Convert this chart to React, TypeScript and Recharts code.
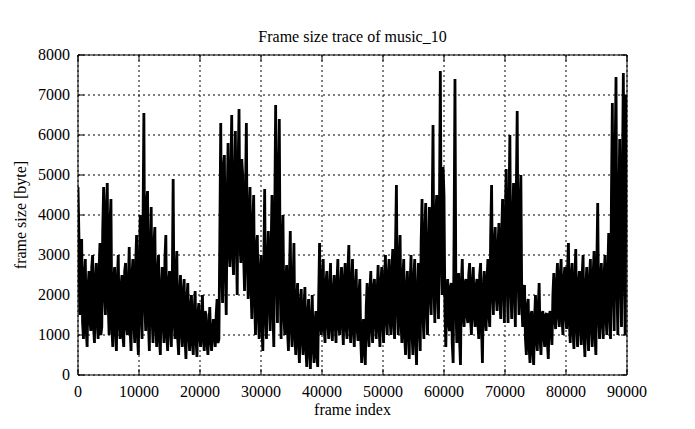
import React from "react";
import { LineChart, Line, XAxis, YAxis, CartesianGrid } from "recharts";

// frame size samples, one every FRAME_STEP frames
const FRAME_STEP = 150;
const frameSizes = [
  4700, 3500, 1500, 2800, 3400, 1300, 900, 2500, 2900, 1100, 700, 2200, 2600, 1400, 1100, 2700, 3000, 1200, 800, 2400,
  2800, 1300, 900, 2600, 3300, 1000, 1200, 3600, 4700, 2000, 1500, 4200, 4800, 1800, 1000, 3800, 4400, 1200, 700, 2300,
  2700, 1100, 600, 2400, 3000, 1300, 900, 2200, 2500, 1000, 700, 2600, 2800, 1200, 1000, 2300, 3200, 1100, 600, 2500,
  2900, 1300, 800, 2700, 3500, 1000, 500, 2800, 4000, 1500, 900, 3600, 6550, 1800, 1100, 4300, 4600, 1300, 600, 3200,
  4200, 1400, 800, 3300, 3700, 1200, 700, 2600, 3000, 900, 500, 2200, 2700, 1300, 800, 2900, 3500, 1000, 600, 2300,
  2600, 1100, 700, 2200, 4900, 1400, 900, 2500, 3100, 900, 500, 2000, 2500, 1100, 700, 2100, 2400, 900, 400, 1900,
  2300, 1000, 600, 1700, 2000, 800, 500, 1600, 2100, 900, 450, 1500, 1800, 1000, 700, 1400, 2000, 900, 600, 1600,
  1500, 800, 500, 1200, 1700, 900, 600, 1100, 1400, 1000, 700, 1500, 1900, 800, 900, 3500, 6300, 2800, 1800, 5200,
  5500, 2600, 1500, 4300, 5800, 3200, 2700, 5000, 6500, 3000, 2500, 4800, 6100, 3400, 2000, 5200, 6650, 3300, 2800, 5400,
  5000, 3000, 2100, 4500, 6300, 2800, 1900, 4000, 4700, 2200, 1400, 3800, 4500, 1900, 1000, 3200, 3500, 1500, 900, 2600,
  3000, 1200, 600, 2500, 4650, 1500, 900, 2800, 3600, 1800, 1100, 3100, 4500, 1600, 700, 3900, 6750, 2600, 1300, 5000,
  6400, 2200, 900, 3200, 4000, 1500, 1000, 2300, 2750, 1100, 600, 2400, 3600, 1200, 700, 2200, 3300, 1000, 500, 1900,
  2300, 800, 300, 1800, 2150, 900, 500, 1700, 2200, 700, 200, 1500, 1900, 600, 150, 1400, 2000, 700, 300, 1300,
  1600, 500, 200, 1900, 3300, 1300, 1000, 2400, 2900, 1200, 800, 2300, 2600, 1300, 900, 2200, 2800, 1200, 850, 2100,
  2500, 1300, 800, 2300, 2900, 1200, 1000, 2200, 2700, 1300, 750, 2400, 2800, 1200, 900, 2600, 3250, 1300, 800, 2300,
  2900, 1100, 700, 2200, 2650, 1200, 850, 2000, 2400, 900, 300, 1100, 1400, 600, 250, 1700, 2300, 1100, 700, 2100,
  2600, 1200, 800, 2200, 2400, 1300, 900, 2100, 2750, 1200, 700, 2300, 2700, 1300, 800, 2400, 3000, 1400, 1000, 2500,
  2900, 1400, 1000, 2600, 3150, 1300, 900, 3200, 4750, 1700, 1000, 2800, 3500, 1300, 800, 2400, 2900, 1000, 500, 2200,
  2600, 1000, 400, 2300, 3000, 1100, 500, 2400, 2900, 900, 250, 2100, 2800, 1200, 600, 3300, 4400, 1500, 900, 3600,
  4300, 1600, 1000, 3200, 4200, 2000, 1500, 3800, 6250, 2200, 1300, 3900, 4500, 2000, 1400, 4100, 7600, 3000, 2000, 5200,
  4500, 1600, 700, 2000, 2400, 1300, 1100, 2200, 2300, 800, 300, 3500, 7400, 1800, 800, 2100, 2550, 900, 250, 2300,
  2900, 1500, 1200, 2300, 2400, 1500, 1300, 2500, 2800, 1400, 1000, 2300, 2700, 1500, 1200, 2200, 2400, 1300, 900, 2500,
  2800, 1200, 300, 2200, 2600, 1400, 1100, 2400, 2900, 1500, 1200, 3500, 4750, 2000, 1500, 3300, 3700, 2000, 1600, 3200,
  3800, 1900, 1400, 3500, 4400, 2100, 1300, 4000, 5150, 2300, 1300, 4200, 6000, 2200, 1400, 3800, 4800, 2000, 1200, 4500,
  6600, 2400, 1500, 4200, 5000, 1800, 1200, 2000, 2250, 900, 500, 1700, 1900, 700, 300, 1500, 1600, 600, 250, 1400,
  2000, 900, 600, 1700, 2300, 900, 500, 1500, 1600, 1000, 700, 1500, 1550, 800, 400, 1500, 1600, 1100, 750, 2000,
  2550, 1400, 1150, 2300, 2800, 1500, 1200, 2500, 2900, 1400, 1000, 2400, 2700, 1500, 1150, 2600, 3300, 1300, 800, 2500,
  2800, 1100, 650, 2400, 3150, 1200, 700, 2300, 2600, 1200, 750, 2500, 3000, 1000, 450, 2200, 2700, 1100, 600, 2400,
  2900, 1200, 700, 2500, 3100, 1000, 500, 2700, 4300, 1500, 900, 2400, 2800, 1300, 900, 2500, 3000, 1400, 1000, 2600,
  3550, 1500, 900, 4500, 6800, 2000, 1100, 5500, 7450, 2200, 1000, 4000, 5900, 2400, 1200, 5000, 7550, 2600, 1000, 7000,
  6000,
];

const xTicks = [0, 10000, 20000, 30000, 40000, 50000, 60000, 70000, 80000, 90000];
const yTicks = [0, 1000, 2000, 3000, 4000, 5000, 6000, 7000, 8000];

const data = frameSizes.map((size, i) => ({ frame: i * FRAME_STEP, size }));

const FONT = "'Liberation Serif', 'DejaVu Serif', serif";
const FS = 16;
const TICK_LEN = 6;

const BottomTick = (props: any) => {
  const { x, y, payload } = props;
  return (
    <g>
      <line x1={x} x2={x} y1={y} y2={y - TICK_LEN} stroke="#000" />
      <text x={x} y={y + 22} textAnchor="middle" fontSize={FS} fontFamily={FONT} fill="#000">
        {payload.value}
      </text>
    </g>
  );
};

const TopTick = (props: any) => {
  const { x, y } = props;
  return <line x1={x} x2={x} y1={y} y2={y + TICK_LEN} stroke="#000" />;
};

const LeftTick = (props: any) => {
  const { x, y, payload } = props;
  return (
    <g>
      <line x1={x} x2={x + TICK_LEN} y1={y} y2={y} stroke="#000" />
      <text x={x - 8} y={y + 5} textAnchor="end" fontSize={FS} fontFamily={FONT} fill="#000">
        {payload.value}
      </text>
    </g>
  );
};

const RightTick = (props: any) => {
  const { x, y } = props;
  return <line x1={x} x2={x - TICK_LEN} y1={y} y2={y} stroke="#000" />;
};

export default function App() {
  return (
    <div style={{ position: "absolute", left: 0, top: 0, width: 695, height: 429, background: "#fff" }}>
      <div
        style={{
          position: "absolute",
          left: 78,
          width: 549,
          top: 29,
          textAlign: "center",
          fontFamily: FONT,
          fontSize: FS,
          lineHeight: "16px",
          color: "#000",
        }}
      >
        Frame size trace of music_10
      </div>
      <LineChart width={695} height={429} data={data} margin={{ top: 45, right: 58, bottom: 14, left: 18 }}>
        <CartesianGrid stroke="#000" strokeDasharray="2 3" strokeWidth={1} />
        <XAxis
          dataKey="frame"
          type="number"
          domain={[0, 90000]}
          ticks={xTicks}
          allowDataOverflow
          height={40}
          tickSize={0}
          tickMargin={0}
          tickLine={false}
          axisLine={{ stroke: "#000" }}
          tick={(p: any) => <BottomTick {...p} />}
          interval={0}
          label={{ value: "frame index", position: "insideBottom", offset: 0, fontSize: FS, fontFamily: FONT, fill: "#000" }}
        />
        <XAxis
          xAxisId="top"
          orientation="top"
          dataKey="frame"
          type="number"
          domain={[0, 90000]}
          ticks={xTicks}
          allowDataOverflow
          height={10}
          tickSize={0}
          tickMargin={0}
          tickLine={false}
          axisLine={{ stroke: "#000" }}
          tick={(p: any) => <TopTick {...p} />}
          interval={0}
        />
        <YAxis
          type="number"
          domain={[0, 8000]}
          ticks={yTicks}
          allowDataOverflow
          width={60}
          tickSize={0}
          tickMargin={0}
          tickLine={false}
          axisLine={{ stroke: "#000" }}
          tick={(p: any) => <LeftTick {...p} />}
          interval={0}
          label={{
            value: "frame size [byte]",
            angle: -90,
            position: "insideLeft",
            offset: 2,
            fontSize: FS,
            fontFamily: FONT,
            fill: "#000",
            style: { textAnchor: "middle" },
          }}
        />
        <YAxis
          yAxisId="right"
          orientation="right"
          type="number"
          domain={[0, 8000]}
          ticks={yTicks}
          allowDataOverflow
          width={10}
          tickSize={0}
          tickMargin={0}
          tickLine={false}
          axisLine={{ stroke: "#000" }}
          tick={(p: any) => <RightTick {...p} />}
          interval={0}
        />
        <Line
          type="linear"
          dataKey="size"
          stroke="#000"
          strokeWidth={2.8}
          strokeLinejoin="miter"
          dot={false}
          isAnimationActive={false}
        />
      </LineChart>
    </div>
  );
}
